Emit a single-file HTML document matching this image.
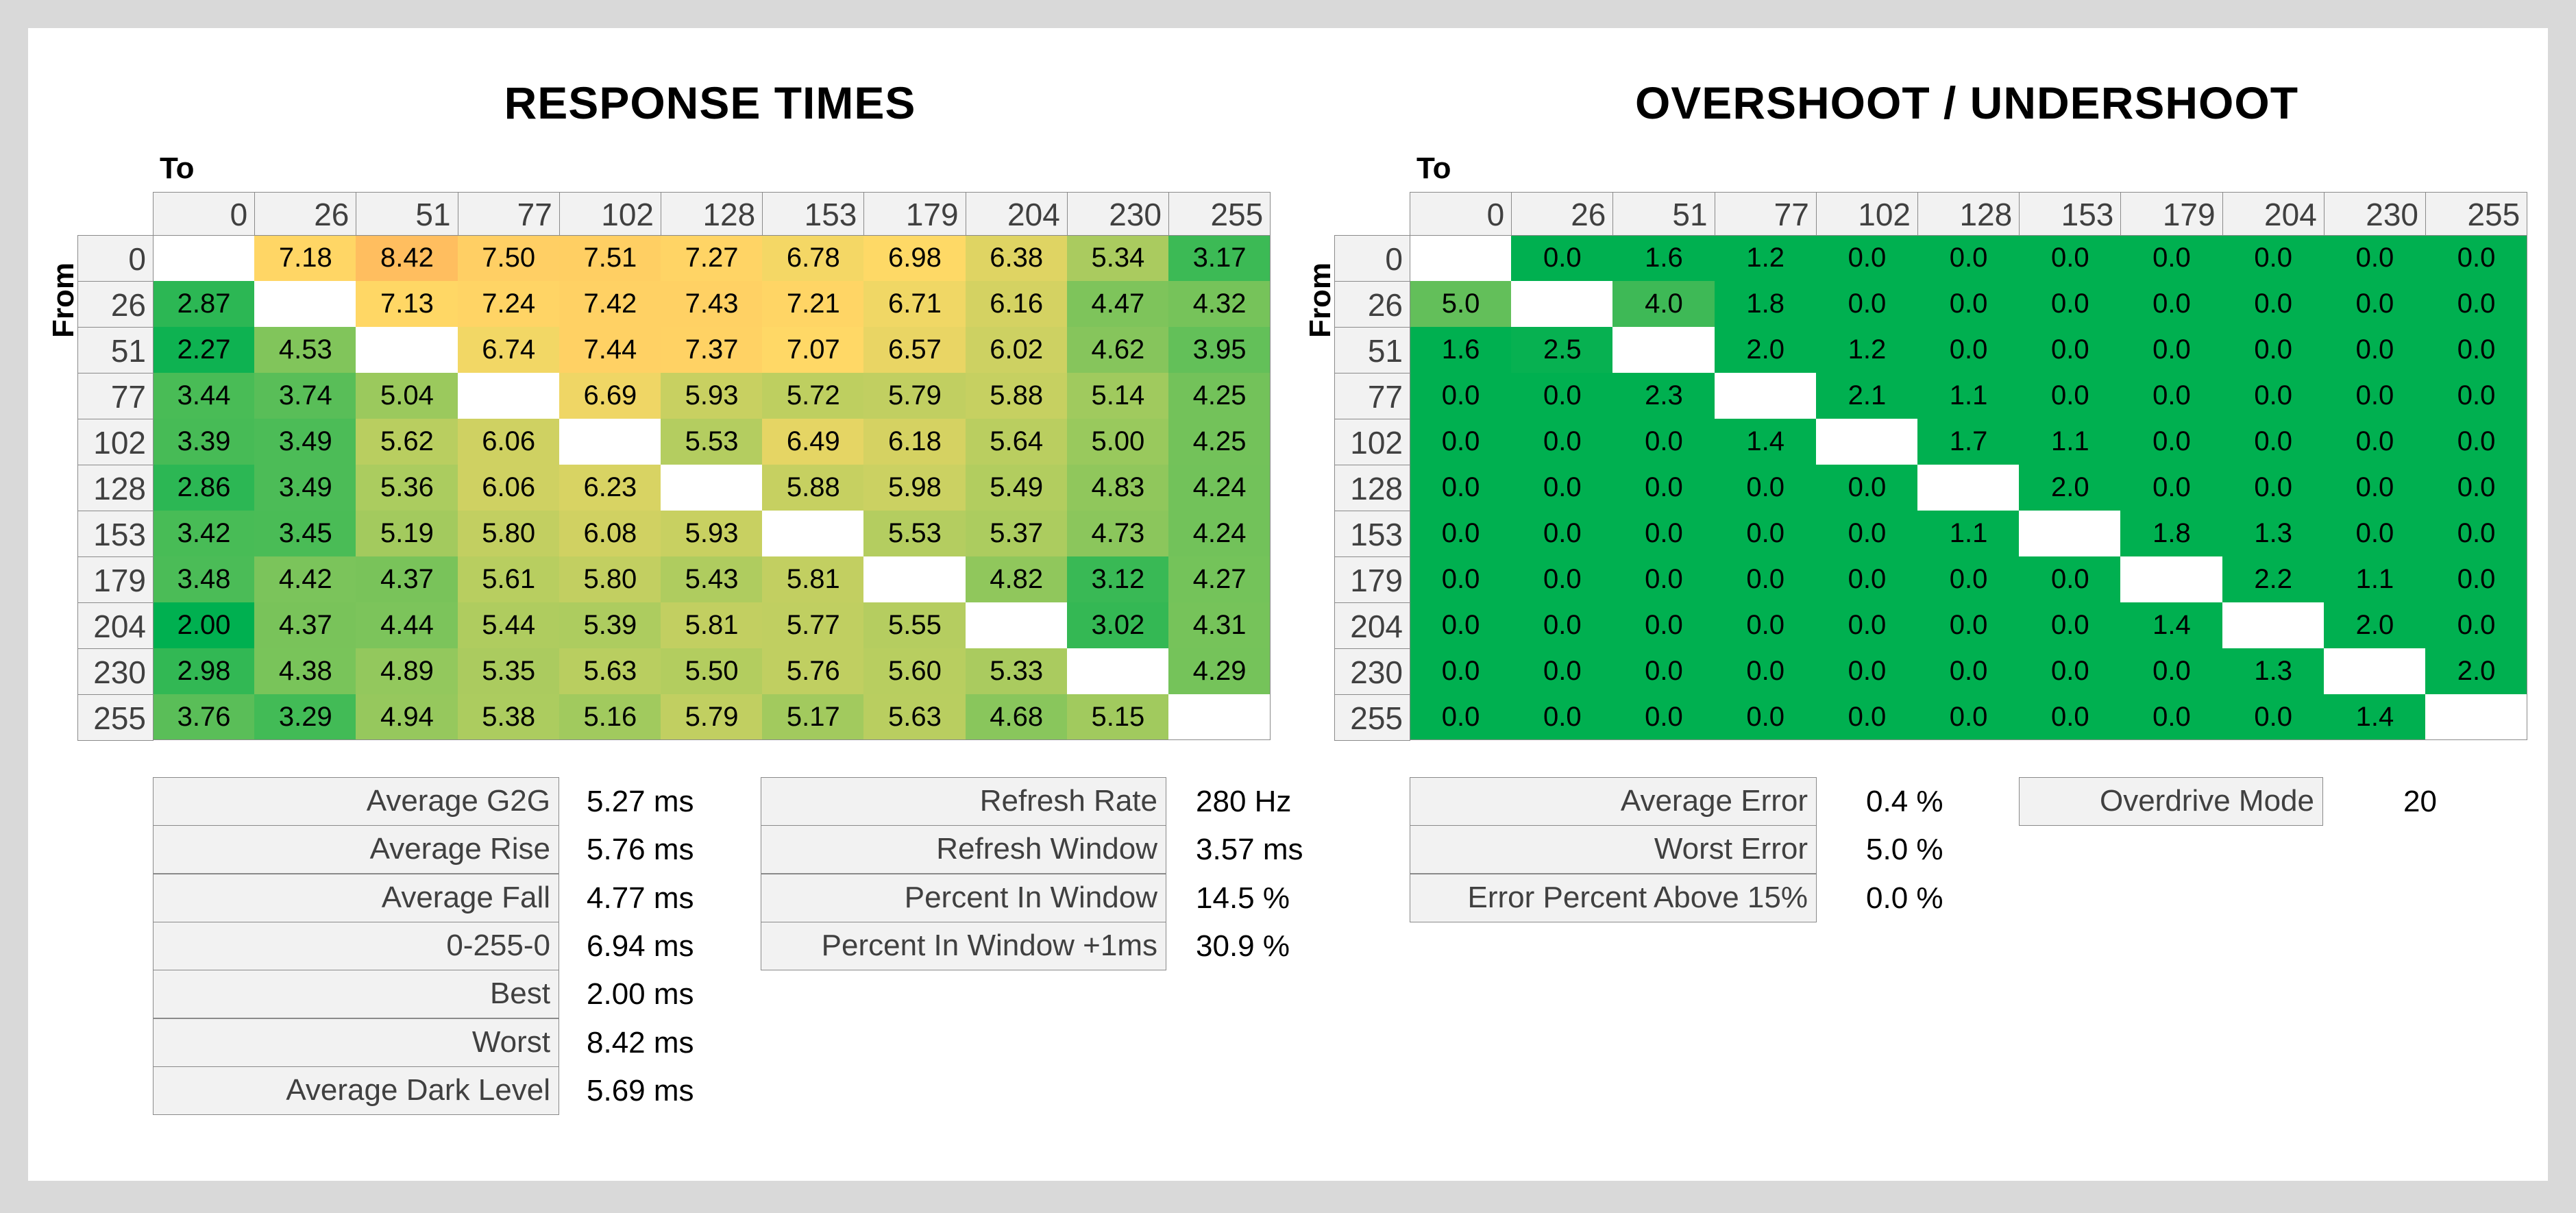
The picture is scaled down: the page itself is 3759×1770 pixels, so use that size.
<!DOCTYPE html>
<html><head><meta charset="utf-8"><style>
body{margin:0;width:3759px;height:1770px;background:#d9d9d9;position:relative;overflow:hidden;font-family:"Liberation Sans Narrow","Liberation Sans",sans-serif}
#panel{position:absolute;left:41px;top:41px;width:3677px;height:1682px;background:#fff}
.a{position:absolute;box-sizing:border-box;white-space:nowrap}
.h{background:#f2f2f2;border:1.5px solid #8a8a8a;color:#404040;font-size:46px;text-align:right;padding-right:10px}
.c{font-size:40px;text-align:center;color:#000}
.t{font-size:66px;font-weight:bold;color:#000;letter-spacing:1px}
.lab{background:#f2f2f2;border:1.5px solid #8a8a8a;color:#404040;font-size:44px;text-align:right;padding-right:12px;line-height:68px}
.val{font-size:44px;color:#000;line-height:70px}
</style></head><body>
<div id="panel"></div>
<div class="a t" style="left:0;width:2072px;top:112px;text-align:center">RESPONSE TIMES</div>
<div class="a t" style="left:2000px;width:1740px;top:112px;text-align:center">OVERSHOOT / UNDERSHOOT</div>
<div id="root"></div>
<script>
const levels=[0,26,51,77,102,128,153,179,204,230,255];
const rtRows=[
[null,7.18,8.42,7.50,7.51,7.27,6.78,6.98,6.38,5.34,3.17],
[2.87,null,7.13,7.24,7.42,7.43,7.21,6.71,6.16,4.47,4.32],
[2.27,4.53,null,6.74,7.44,7.37,7.07,6.57,6.02,4.62,3.95],
[3.44,3.74,5.04,null,6.69,5.93,5.72,5.79,5.88,5.14,4.25],
[3.39,3.49,5.62,6.06,null,5.53,6.49,6.18,5.64,5.00,4.25],
[2.86,3.49,5.36,6.06,6.23,null,5.88,5.98,5.49,4.83,4.24],
[3.42,3.45,5.19,5.80,6.08,5.93,null,5.53,5.37,4.73,4.24],
[3.48,4.42,4.37,5.61,5.80,5.43,5.81,null,4.82,3.12,4.27],
[2.00,4.37,4.44,5.44,5.39,5.81,5.77,5.55,null,3.02,4.31],
[2.98,4.38,4.89,5.35,5.63,5.50,5.76,5.60,5.33,null,4.29],
[3.76,3.29,4.94,5.38,5.16,5.79,5.17,5.63,4.68,5.15,null]];
const osRows=[
[null,0,1.6,1.2,0,0,0,0,0,0,0],
[5.0,null,4.0,1.8,0,0,0,0,0,0,0],
[1.6,2.5,null,2.0,1.2,0,0,0,0,0,0],
[0,0,2.3,null,2.1,1.1,0,0,0,0,0],
[0,0,0,1.4,null,1.7,1.1,0,0,0,0],
[0,0,0,0,0,null,2.0,0,0,0,0],
[0,0,0,0,0,1.1,null,1.8,1.3,0,0],
[0,0,0,0,0,0,0,null,2.2,1.1,0],
[0,0,0,0,0,0,0,1.4,null,2.0,0],
[0,0,0,0,0,0,0,0,1.3,null,2.0],
[0,0,0,0,0,0,0,0,0,1.4,null]];
const statLabelsA=["Average G2G","Average Rise","Average Fall","0-255-0","Best","Worst","Average Dark Level"];
const statValuesA=["5.27 ms","5.76 ms","4.77 ms","6.94 ms","2.00 ms","8.42 ms","5.69 ms"];
const statLabelsB=["Refresh Rate","Refresh Window","Percent In Window","Percent In Window +1ms"];
const statValuesB=["280 Hz","3.57 ms","14.5 %","30.9 %"];
const statLabelsC=["Average Error","Worst Error","Error Percent Above 15%"];
const statValuesC=["0.4 %","5.0 %","0.0 %"];
const statLabelsD=["Overdrive Mode"];
const statValuesD=["20"];

const root=document.getElementById('root');
function mk(cls,x,y,w,h,txt){const d=document.createElement('div');d.className='a '+cls;d.style.left=x+'px';d.style.top=y+'px';d.style.width=w+'px';d.style.height=h+'px';if(txt!==undefined){d.textContent=txt;d.style.lineHeight=h+'px';}root.appendChild(d);return d;}
function lerp(a,b,t){return a.map((v,i)=>Math.round(v+(b[i]-v)*t));}
function rtColor(v){const g=[0,176,80],y=[255,217,102],o=[255,190,95];
 if(v<=7.0){return lerp(g,y,Math.max(0,(v-2)/5));}return lerp(y,o,Math.min(1,(v-7)/1.42));}
function osColor(v){return lerp([0,176,80],[99,191,90],Math.max(0,Math.min(1,(v-2.3)/2.7)));}
const CW=148.2,RH=67,HH=63;
function heat(x0,y0,rows,colorFn,digits,prefix){
 const lx=x0-110;
 const to=mk('',x0+10,y0-62,80,55,'To');to.style.fontSize='44px';to.style.fontWeight='bold';
 
 
 const fr=mk('',lx-90,y0+HH+65,140,60,'From');fr.style.fontSize='44px';fr.style.fontWeight='bold';fr.style.transform='rotate(-90deg)';fr.style.textAlign='center';
 
 
 levels.forEach((l,i)=>{const d=mk('h',x0+i*CW,y0,CW+1,HH+1,l);
  
  });
 levels.forEach((l,i)=>{const d=mk('h',lx,y0+HH+i*RH,111,RH+1,l);
  
  });
 rows.forEach((r,i)=>r.forEach((v,j)=>{
  const d=mk('c',x0+j*CW,y0+HH+i*RH,CW+1,RH,v===null?'':v.toFixed(digits));
  d.style.background=v===null?'#fff':'rgb('+colorFn(v).join(',')+')';
  
  }));
 const b=mk('',x0,y0+HH,CW*11+1,RH*11,undefined);b.style.border='1.5px solid #8a8a8a';
 
 
}
heat(223,280,rtRows,rtColor,2,'rt');
heat(2057,280,osRows,osColor,1,'os');
function stats(x,w,vx,labels,vals,prefix){
 labels.forEach((l,i)=>{const d=mk('lab',x,1134+i*70.3,w,71,l);d.style.lineHeight='68px';
  
  
  const v=mk('val',vx,1134+i*70.3,300,71,vals[i]);
  
  });
}
stats(223,593,856,statLabelsA,statValuesA,'rt-stat');
stats(1110,592,1745,statLabelsB,statValuesB,'refresh-stat');
stats(2057,594,2723,statLabelsC,statValuesC,'error-stat');
stats(2946,444,3507,statLabelsD,statValuesD,'overdrive-stat');
</script>
</body></html>
